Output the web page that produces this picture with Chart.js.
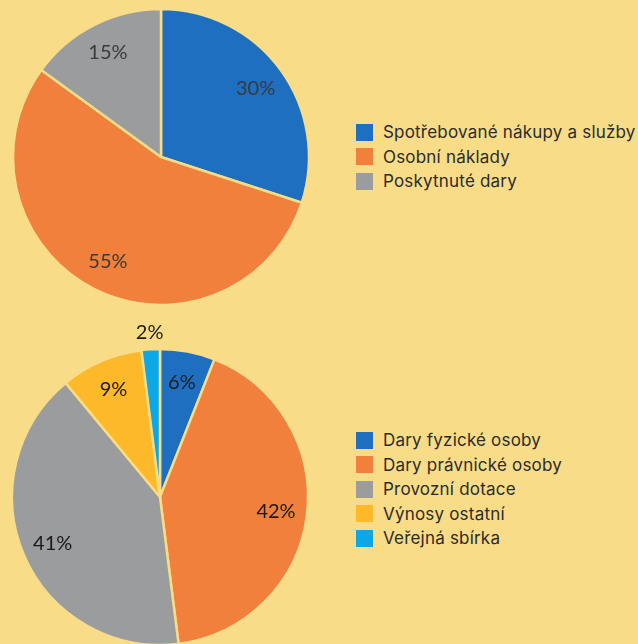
<!DOCTYPE html>
<html><head><meta charset="utf-8">
<script src="https://cdn.jsdelivr.net/npm/chart.js@4"></script>
<style>
html,body{margin:0;padding:0;width:638px;height:644px;overflow:hidden;background:#F8DC87;}
#wrap{position:relative;width:638px;height:644px;overflow:hidden;}
.cv{position:absolute;left:0;}
.legend{position:absolute;left:356px;font-family:Inter,"Noto Sans",sans-serif;font-size:17px;letter-spacing:0.2px;color:#2b2b2b;}
.legend div{height:24.5px;display:flex;align-items:center;white-space:nowrap;}
.legend span.b{display:inline-block;width:17px;height:17px;margin-right:10px;}
</style></head>
<body><div id="wrap">
<div class="cv" style="top:0;width:322px;height:314px;"><canvas id="c1"></canvas></div>
<div class="cv" style="top:320px;width:320px;height:354px;"><canvas id="c2"></canvas></div>
<div class="legend" id="l1" style="top:120px;"></div>
<div class="legend" id="l2" style="top:428px;"></div>
</div>
<script>
const costLabels = ["Spotřebované nákupy a služby","Osobní náklady","Poskytnuté dary"];
const costValues = [30,55,15];
const costColors = ["#1E6FC0","#F0803C","#9B9C9E"];

const incomeLabels = ["Dary fyzické osoby","Dary právnické osoby","Provozní dotace","Výnosy ostatní","Veřejná sbírka"];
const incomeValues = [6,42,41,9,2];
const incomeColors = ["#1E6FC0","#F0803C","#9B9C9E","#FDB92A","#0BA8E8"];

const BG = "#F8DC87";

const pctLabels = {
  id:'pctLabels',
  afterDatasetsDraw(chart, args, opts){
    const ctx = chart.ctx;
    const meta = chart.getDatasetMeta(0);
    const data = chart.data.datasets[0].data;
    ctx.save();
    ctx.font = opts.font;
    ctx.fillStyle = opts.color;
    ctx.textAlign = 'center';
    ctx.textBaseline = 'middle';
    meta.data.forEach((arc, i) => {
      const p = arc.getProps(['x','y','startAngle','endAngle','outerRadius'], true);
      const mid = (p.startAngle + p.endAngle)/2;
      const r = data[i] < 4 ? p.outerRadius + 17 : p.outerRadius * 0.79;
      ctx.fillText(data[i] + '%', p.x + Math.cos(mid)*r, p.y + Math.sin(mid)*r);
    });
    ctx.restore();
  }
};

function makePie(id, labels, values, colors, color){
  return new Chart(document.getElementById(id), {
    type:'pie',
    data:{labels:labels, datasets:[{data:values, backgroundColor:colors, borderColor:BG, borderWidth:2.5}]},
    options:{
      responsive:true, maintainAspectRatio:false, animation:false,
      radius:148,
      layout:{padding:0},
      plugins:{legend:{display:false}, tooltip:{enabled:false},
        pctLabels:{font:'20px Lato, "Open Sans", sans-serif', color:color}}
    },
    plugins:[pctLabels]
  });
}
makePie('c1', costLabels, costValues, costColors, '#3a3a3a');
makePie('c2', incomeLabels, incomeValues, incomeColors, '#1a1a1a');

function makeLegend(id, labels, colors){
  const el = document.getElementById(id);
  labels.forEach((t,i)=>{
    const d = document.createElement('div');
    const b = document.createElement('span'); b.className='b'; b.style.background=colors[i];
    d.appendChild(b); d.appendChild(document.createTextNode(t));
    el.appendChild(d);
  });
}
makeLegend('l1', costLabels, costColors);
makeLegend('l2', incomeLabels, incomeColors);
</script>
</body></html>
